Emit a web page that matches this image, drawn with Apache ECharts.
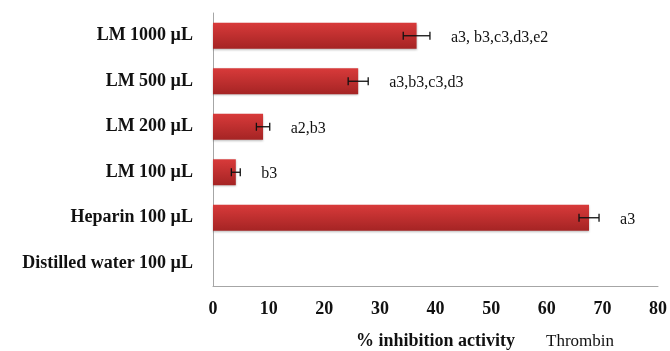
<!DOCTYPE html>
<html>
<head>
<meta charset="utf-8">
<script src="https://cdn.jsdelivr.net/npm/echarts@6/dist/echarts.min.js"></script>
<style>
  html, body { margin: 0; padding: 0; background: #fff; }
  #chart { width: 670px; height: 351px; }
</style>
</head>
<body>
<div id="chart"></div>
<script>
// categories from bottom to top (category axis starts at the bottom)
var groups = ['Distilled water 100 \u00b5L', 'Heparin 100 \u00b5L', 'LM 100 \u00b5L', 'LM 200 \u00b5L', 'LM 500 \u00b5L', 'LM 1000 \u00b5L'];
var inhibition = [0, 67.6, 4.1, 9.0, 26.1, 36.6];
var stdErr = [0, 1.8, 0.8, 1.2, 1.8, 2.4];
var letters = ['', 'a3', 'b3', 'a2,b3', 'a3,b3,c3,d3', 'a3, b3,c3,d3,e2'];
var xTicks = [0, 80, 10];   // min, max, interval

var chart = echarts.init(document.getElementById('chart'));

var errData = groups.map(function (g, i) {
    return [i, inhibition[i], stdErr[i]];
});

var option = {
    animation: false,
    grid: { left: 213, right: 12, top: 13, bottom: 65, containLabel: false, outerBoundsMode: 'none' },
    xAxis: {
        type: 'value',
        min: xTicks[0],
        max: xTicks[1],
        interval: xTicks[2],
        name: '% inhibition activity',
        nameLocation: 'middle',
        nameGap: 46,
        nameTextStyle: { fontFamily: 'Liberation Serif', fontWeight: 'bold', fontSize: 18, color: '#111' },
        axisLine: { show: true, lineStyle: { color: '#a6a6a6', width: 1 } },
        axisTick: { show: false },
        splitLine: { show: false },
        axisLabel: { fontFamily: 'Liberation Serif', fontWeight: 'bold', fontSize: 18, color: '#111', margin: 14 }
    },
    yAxis: {
        type: 'category',
        data: groups,
        axisLine: { show: true, lineStyle: { color: '#a6a6a6', width: 1 } },
        axisTick: { show: false },
        axisLabel: { fontFamily: 'Liberation Serif', fontWeight: 'bold', fontSize: 18, color: '#111', margin: 20 }
    },
    graphic: [{
        type: 'text',
        left: 546,
        top: 333,
        style: { text: 'Thrombin', font: '17px "Liberation Serif"', fill: '#111' }
    }],
    series: [{
        type: 'bar',
        data: inhibition,
        barWidth: '57%',
        itemStyle: {
            color: new echarts.graphic.LinearGradient(0, 0, 0, 1, [
                { offset: 0, color: '#d83a3a' },
                { offset: 1, color: '#a52424' }
            ]),
            shadowColor: 'rgba(0,0,0,0.25)',
            shadowBlur: 2,
            shadowOffsetY: 1
        }
    }, {
        type: 'custom',
        data: errData,
        z: 5,
        renderItem: function (params, api) {
            var cat = api.value(0);
            var v = api.value(1);
            var e = api.value(2);
            var txt = letters[cat];
            if (!txt) return null;
            var lo = api.coord([v - e, cat]);
            var hi = api.coord([v + e, cat]);
            var cap = 4;
            var st = { stroke: '#111', lineWidth: 1.3 };
            return {
                type: 'group',
                children: [
                    { type: 'line', shape: { x1: lo[0], y1: lo[1], x2: hi[0], y2: hi[1] }, style: st },
                    { type: 'line', shape: { x1: lo[0], y1: lo[1] - cap, x2: lo[0], y2: lo[1] + cap }, style: st },
                    { type: 'line', shape: { x1: hi[0], y1: hi[1] - cap, x2: hi[0], y2: hi[1] + cap }, style: st },
                    {
                        type: 'text',
                        x: hi[0] + 21,
                        y: hi[1] + 2,
                        style: {
                            text: txt,
                            font: '16px "Liberation Serif"',
                            fill: '#111',
                            verticalAlign: 'middle'
                        }
                    }
                ]
            };
        }
    }]
};

chart.setOption(option);
</script>
</body>
</html>
